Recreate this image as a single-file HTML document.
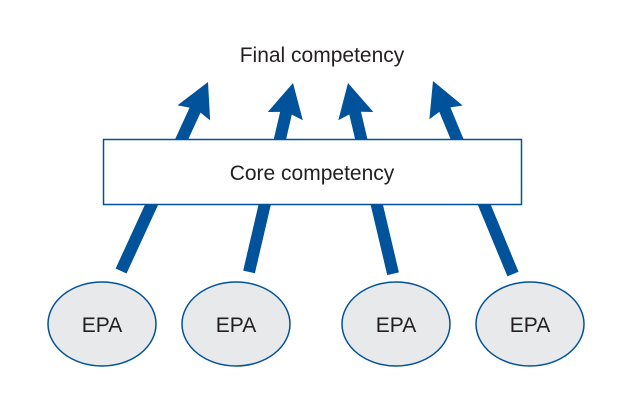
<!DOCTYPE html><html><head><style>body{margin:0;background:#fff}svg{display:block}text{font-family:"Liberation Sans",sans-serif;fill:#231f20}</style></head><body>
<svg width="633" height="418" viewBox="0 0 633 418">
<g fill="#00529b">
<g transform="translate(208,82) rotate(-65.3)"><polygon points="0,0 -34,-18 -31,-6 -208,-6 -208,6 -31,6 -34,18"/></g>
<g transform="translate(293,83) rotate(-76.9)"><polygon points="0,0 -34,-18 -31,-6 -194,-6 -194,6 -31,6 -34,18"/></g>
<g transform="translate(348,83) rotate(-103.3)"><polygon points="0,0 -34,-18 -31,-6 -196,-6 -196,6 -31,6 -34,18"/></g>
<g transform="translate(433,81) rotate(-112.5)"><polygon points="0,0 -34,-18 -31,-6 -209,-6 -209,6 -31,6 -34,18"/></g>
</g>
<text x="322" y="62" font-size="21" text-anchor="middle">Final competency</text>
<rect x="103.5" y="139.5" width="418" height="65" fill="#fff" stroke="#00529b" stroke-width="1.5"/>
<text x="312" y="180" font-size="21" text-anchor="middle">Core competency</text>
<g fill="#e8e9eb" stroke="#00529b" stroke-width="1.5">
<ellipse cx="102" cy="324" rx="54" ry="42"/>
<ellipse cx="236" cy="324" rx="54" ry="42"/>
<ellipse cx="396" cy="324" rx="54" ry="42"/>
<ellipse cx="530" cy="324" rx="54" ry="42"/>
</g>
<g font-size="21" text-anchor="middle">
<text x="102" y="332">EPA</text><text x="236" y="332">EPA</text><text x="396" y="332">EPA</text><text x="530" y="332">EPA</text>
</g>
</svg></body></html>
